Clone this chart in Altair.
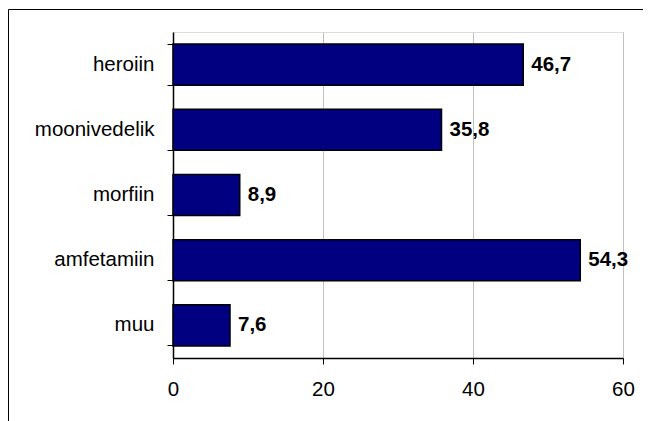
import altair as alt
import pandas as pd

categories = ["heroiin", "moonivedelik", "morfiin", "amfetamiin", "muu"]
values = [46.7, 35.8, 8.9, 54.3, 7.6]
x_ticks = [0, 20, 40, 60]

df = pd.DataFrame({"cat": categories, "v": values})
FONT = "Liberation Sans"

y_enc = alt.Y("cat:N", sort=categories, title=None,
              scale=alt.Scale(paddingInner=0.37, paddingOuter=0.185),
              axis=alt.Axis(bandPosition=1, tickExtra=True, tickSize=6,
                            tickColor="black", domainColor="black", domainWidth=1.5,
                            labelFont=FONT, labelFontSize=20.5, labelColor="black",
                            labelPadding=13, grid=False))
x_enc = alt.X("v:Q", title=None,
              scale=alt.Scale(domain=[0, 60], nice=False),
              axis=alt.Axis(values=x_ticks, tickSize=6, tickColor="black",
                            domainColor="black", domainWidth=1.5,
                            labelFont=FONT, labelFontSize=20.5, labelColor="black",
                            labelPadding=15, grid=True, gridColor="#c0c0c0",
                            labelFlush=False))

base = alt.Chart(df)
bars = base.mark_bar(color="#000080", stroke="black", strokeWidth=1.5).encode(x=x_enc, y=y_enc)
labels = base.transform_calculate(
    lab="replace(format(datum.v, '.1f'), '.', ',')"
).mark_text(align="left", baseline="middle", dx=8, font=FONT, fontSize=20.5,
            fontWeight="bold", color="black").encode(x="v:Q", y=alt.Y("cat:N", sort=categories), text="lab:N")

one = alt.Data(values=[{}])
left_border = alt.Chart(one).mark_rule(color="black", strokeWidth=1).encode(
    x=alt.value(-164.5), y=alt.value(-22.5), y2=alt.value(400))
top_border = alt.Chart(one).mark_rule(color="black", strokeWidth=1).encode(
    x=alt.value(-164.5), x2=alt.value(500), y=alt.value(-22.5))

chart = alt.layer(bars, labels, left_border, top_border).properties(
    width=450, height=326,
    autosize=alt.AutoSizeParams(type="none"),
    padding={"left": 165, "top": 24, "right": 20, "bottom": 63},
).configure_view(stroke="#808080", strokeWidth=1.5).configure(background="white")

chart.save("out.html", embed_options={"renderer": "svg", "actions": False})
